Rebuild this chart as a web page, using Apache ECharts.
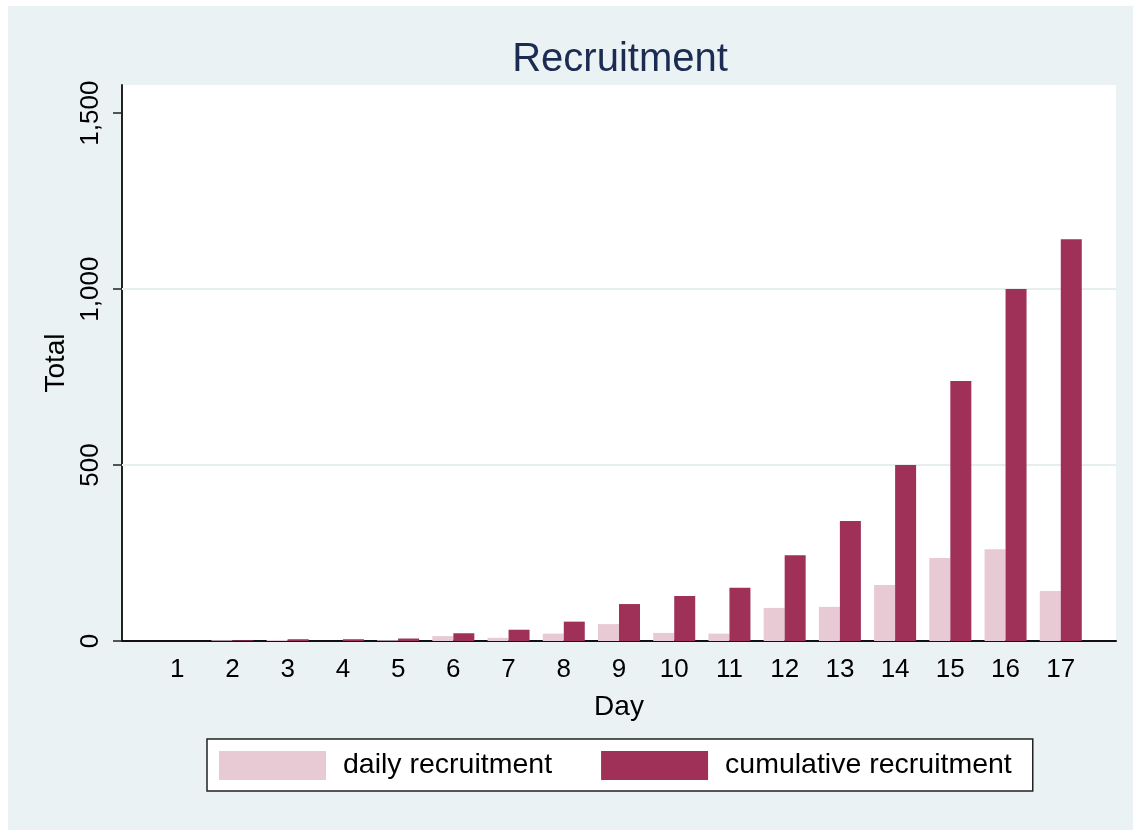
<!DOCTYPE html>
<html>
<head>
<meta charset="utf-8">
<script src="https://cdn.jsdelivr.net/npm/echarts@6/dist/echarts.min.js"></script>
<style>
  html, body { margin: 0; padding: 0; background: #ffffff; }
  #chart { width: 1133px; height: 830px; }
</style>
</head>
<body>
<div id="chart"></div>
<script>
const days = [1, 2, 3, 4, 5, 6, 7, 8, 9, 10, 11, 12, 13, 14, 15, 16, 17];
const dailyRecruitment = [0, 2, 3, 0, 2, 14, 9, 21, 48, 23, 21, 94, 97, 159, 236, 261, 142];
const cumulativeRecruitment = [0, 2, 5, 5, 7, 22, 32, 55, 105, 128, 151, 244, 341, 500, 739, 1000, 1142];
const yTicks = [0, 500, 1000, 1500];
const gridValues = [500, 1000];

const FONT = '"Liberation Sans", Arial, Helvetica, sans-serif';

const chart = echarts.init(document.getElementById('chart'), null, { renderer: 'canvas' });

const option = {
  animation: false,
  backgroundColor: '#eaf2f3',
  textStyle: { fontFamily: FONT },
  graphic: [
    { type: 'rect', shape: { x: 0, y: 0, width: 1133, height: 6 }, style: { fill: '#ffffff' }, silent: true },
    { type: 'rect', shape: { x: 0, y: 0, width: 8, height: 830 }, style: { fill: '#ffffff' }, silent: true }
  ],
  title: {
    text: 'Recruitment',
    left: 620,
    top: 40,
    textAlign: 'center',
    padding: 0,
    textStyle: { fontFamily: FONT, fontSize: 40, fontWeight: 'normal', color: '#1c2b52' }
  },
  grid: {
    left: 122,
    right: 17,
    top: 85,
    bottom: 189,
    show: true,
    backgroundColor: '#ffffff',
    borderWidth: 0,
    containLabel: false
  },
  xAxis: {
    type: 'value',
    min: 0,
    max: 18,
    interval: 1,
    name: 'Day',
    nameLocation: 'middle',
    nameGap: 52,
    nameTextStyle: { fontFamily: FONT, fontSize: 28, color: '#000' },
    axisLine: { show: true, onZero: false, lineStyle: { color: '#111', width: 2 } },
    axisTick: { show: false },
    splitLine: { show: false },
    axisLabel: {
      customValues: days,
      fontFamily: FONT,
      fontSize: 26,
      color: '#000',
      margin: 16
    }
  },
  yAxis: {
    type: 'value',
    min: 0,
    max: 1580,
    interval: 500,
    name: 'Total',
    nameLocation: 'middle',
    nameGap: 40,
    nameRotate: 90,
    nameTextStyle: { fontFamily: FONT, fontSize: 28, color: '#000' },
    axisLine: { show: true, lineStyle: { color: '#222', width: 2 } },
    axisTick: { show: true, customValues: yTicks, length: 9, lineStyle: { color: '#222', width: 1.5 } },
    splitLine: { show: false },
    axisLabel: {
      customValues: yTicks,
      rotate: 90,
      fontFamily: FONT,
      fontSize: 26,
      color: '#000',
      margin: 18,
      formatter: function (v) { return v.toLocaleString('en-US'); }
    }
  },
  legend: {
    left: 207,
    top: 739,
    orient: 'horizontal',
    icon: 'rect',
    itemWidth: 107,
    itemHeight: 29,
    itemGap: 49,
    padding: [12, 21, 11, 12],
    backgroundColor: '#ffffff',
    borderColor: '#222',
    borderWidth: 1.5,
    borderRadius: 0,
    selectedMode: false,
    textStyle: { fontFamily: FONT, fontSize: 28.5, color: '#000', lineHeight: 28, padding: [1, 0, 0, 12] },
    data: ['daily recruitment', 'cumulative recruitment']
  },
  series: [
    {
      name: 'daily recruitment',
      type: 'bar',
      barWidth: 21,
      barGap: '0%',
      z: 2,
      itemStyle: { color: '#e8cad5' },
      data: days.map((d, i) => [d, dailyRecruitment[i]]),
      markLine: {
        silent: true,
        z: 1,
        symbol: ['none', 'none'],
        label: { show: false },
        lineStyle: { color: '#e6eef0', width: 2, type: 'solid' },
        emphasis: { disabled: true },
        data: gridValues.map(v => ({ yAxis: v }))
      }
    },
    {
      name: 'cumulative recruitment',
      type: 'bar',
      barWidth: 21,
      barGap: '0%',
      z: 2,
      itemStyle: { color: '#9f3158' },
      data: days.map((d, i) => [d, cumulativeRecruitment[i]])
    }
  ]
};

chart.setOption(option);
</script>
</body>
</html>
